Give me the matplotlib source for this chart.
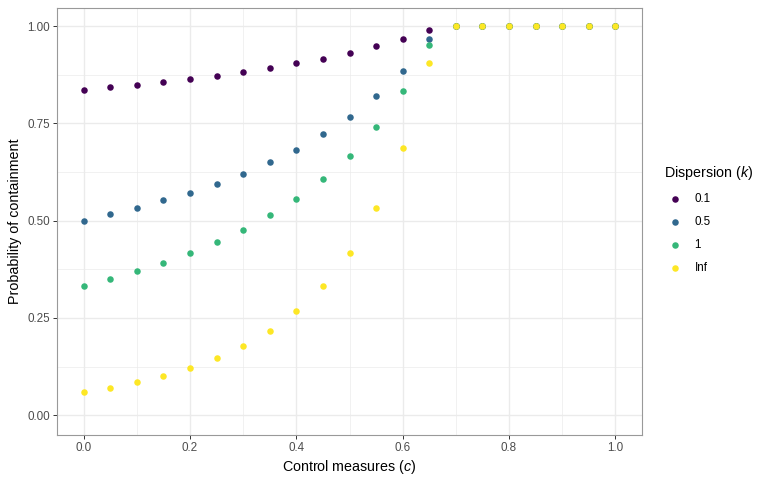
import matplotlib
matplotlib.use("Agg")
import matplotlib.pyplot as plt
import numpy as np

plt.rcParams['font.family'] = ['Liberation Sans', 'DejaVu Sans']
plt.rcParams['mathtext.fontset'] = 'custom'
plt.rcParams['mathtext.it'] = 'Liberation Sans:italic'
plt.rcParams['mathtext.rm'] = 'Liberation Sans'

control = [0.0, 0.05, 0.1, 0.15, 0.2, 0.25, 0.3, 0.35, 0.4, 0.45, 0.5,
           0.55, 0.6, 0.65, 0.7, 0.75, 0.8, 0.85, 0.9, 0.95, 1.0]

k_labels = ["0.1", "0.5", "1", "Inf"]
p_k01 = [0.837, 0.843, 0.850, 0.857, 0.865, 0.873, 0.882, 0.893, 0.905, 0.917, 0.931,
         0.948, 0.967, 0.990, 1.0, 1.0, 1.0, 1.0, 1.0, 1.0, 1.0]
p_k05 = [0.500, 0.516, 0.533, 0.552, 0.572, 0.595, 0.621, 0.650, 0.683, 0.722, 0.767,
         0.820, 0.886, 0.967, 1.0, 1.0, 1.0, 1.0, 1.0, 1.0, 1.0]
p_k1 = [0.333, 0.350, 0.370, 0.392, 0.416, 0.444, 0.477, 0.514, 0.556, 0.606, 0.667,
        0.740, 0.833, 0.951, 1.0, 1.0, 1.0, 1.0, 1.0, 1.0, 1.0]
p_kinf = [0.060, 0.071, 0.085, 0.101, 0.121, 0.147, 0.178, 0.217, 0.268, 0.332, 0.417,
          0.532, 0.687, 0.905, 1.0, 1.0, 1.0, 1.0, 1.0, 1.0, 1.0]
series = [p_k01, p_k05, p_k1, p_kinf]
colors = ["#440154", "#31688E", "#35B779", "#FDE725"]

fig = plt.figure(figsize=(7.68, 4.8), dpi=100)
ax = fig.add_axes([57/768, 1-435/480, (642-57)/768, (435-8)/480])

for lab, vals, col in zip(k_labels, series, colors):
    ax.scatter(control, vals, s=22, color=col, label=lab, linewidths=0, zorder=3)

ax.set_xlim(-0.05, 1.05)
ax.set_ylim(-0.051, 1.047)
ax.set_xticks([0.0, 0.2, 0.4, 0.6, 0.8, 1.0])
ax.set_xticklabels(["0.0", "0.2", "0.4", "0.6", "0.8", "1.0"])
ax.set_yticks([0.0, 0.25, 0.5, 0.75, 1.0])
ax.set_yticklabels(["0.00", "0.25", "0.50", "0.75", "1.00"])
ax.set_xticks([0.1, 0.3, 0.5, 0.7, 0.9], minor=True)
ax.set_yticks([0.125, 0.375, 0.625, 0.875], minor=True)
ax.grid(True, which='major', color='#EBEBEB', linewidth=1.0, zorder=0)
ax.grid(True, which='minor', color='#EBEBEB', linewidth=0.5, zorder=0)
ax.set_axisbelow(True)
ax.tick_params(which='major', length=3, width=0.7, color='#333333',
               labelsize=8.4, labelcolor='#4D4D4D', pad=2)
ax.tick_params(which='minor', length=0)
for sp in ax.spines.values():
    sp.set_color('#999999')
    sp.set_linewidth(0.8)

ax.set_xlabel("Control measures ($c$)", fontsize=10.3, labelpad=3)
ax.set_ylabel("Probability of containment", fontsize=10.3, labelpad=4)

leg = fig.legend(loc='upper left', bbox_to_anchor=(658/768, 1-158/480),
                 title="Dispersion ($k$)", frameon=False, fontsize=8.4,
                 title_fontsize=10.3, handletextpad=0.7, labelspacing=0.95,
                 borderpad=0, markerscale=1.0, handlelength=1.94)
leg._legend_box.align = "left"

fig.savefig("out.png", dpi=100)
